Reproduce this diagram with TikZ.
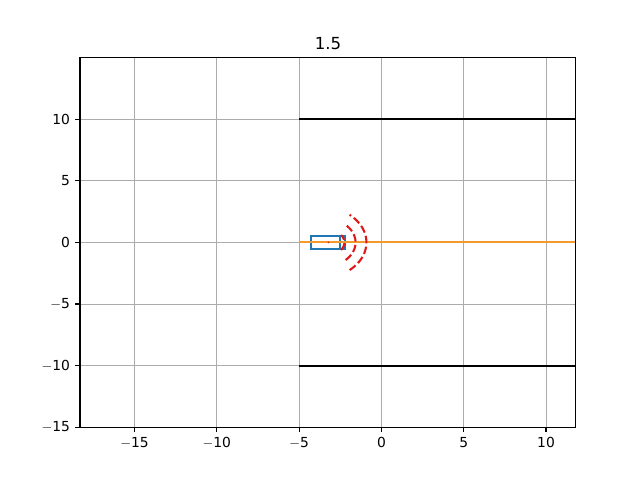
\documentclass[tikz,border=0pt]{standalone}
\usepackage{fontspec}
\setmainfont{DejaVu Sans}
\definecolor{cblue}{HTML}{1F77B4}
\definecolor{corange}{HTML}{F39A2A}
\definecolor{cred}{HTML}{E01818}
\definecolor{cgrid}{HTML}{ABABAB}
\tikzset{
  gridline/.style={draw=cgrid, line width=0.5pt},
  tickmark/.style={draw=black, line width=0.8pt},
  spine/.style={draw=black, line width=0.8pt},
  ticklabel/.style={font=\fontsize{10}{12}\selectfont, inner sep=0pt},
  road/.style={draw=black, line width=1.5pt},
  lane/.style={draw=corange, line width=1.5pt},
  car/.style={draw=cblue, line width=1.5pt},
  wave/.style={draw=cred, line width=1.5pt, dash pattern=on 5.5pt off 2.4pt},
}
\begin{document}
\begin{tikzpicture}[x=0.1646in,y=0.1232in]
\useasboundingbox[fill=white] (-23.17,-19.286) rectangle (15.71,19.675);
\def\xa{-18.31}
\def\xb{11.79}
\def\ya{-15}
\def\yb{14.98}
% grid
\foreach \x in {-15,-10,-5,0,5,10} \draw[gridline] (\x,\ya) -- (\x,\yb);
\foreach \y in {-10,-5,0,5,10} \draw[gridline] (\xa,\y) -- (\xb,\y);
% road edges
\coordinate (ul) at (-5,10); \coordinate (ur) at (\xb,10);
\coordinate (ll) at (-5,-10); \coordinate (lr) at (\xb,-10);
\draw[road] (ul) -- (ur);
\draw[road] (ll) -- (lr);
% car
\coordinate (c1) at (-4.25,-0.5); \coordinate (c2) at (-2.23,0.5);
\draw[car] (c1) rectangle (c2);
\coordinate (f1) at (-2.53,-0.5); \coordinate (f2) at (-2.53,0.5);
\draw[cblue, line width=1.2pt] (f1) -- (f2);
% lane
\coordinate (la) at (-5,0); \coordinate (lb) at (\xb,0);
\draw[lane] (la) -- (lb);
\fill[cred] (-3.22,0) circle (0.7pt);
% waves
\draw[wave] plot[domain=-49:49, samples=50] ({-3.88+2.97*cos(\x)},{2.97*sin(\x)});
\draw[wave] plot[domain=-46:46, samples=40] ({-3.55+1.98*cos(\x)},{1.98*sin(\x)});
\draw[wave] plot[domain=-37:37, samples=30] ({-3.25+1.0*cos(\x)},{1.0*sin(\x)});
% spines
\draw[spine] (\xa,\ya) rectangle (\xb,\yb);
% ticks and labels
\foreach \x/\l in {-15/$-$15,-10/$-$10,-5/$-$5,0/0,5/5,10/10} {
  \draw[tickmark] (\x,\ya) -- ++(0,-3.5pt);
  \node[ticklabel, anchor=north] at ([yshift=-7pt]\x,\ya) {\l};
}
\foreach \y/\l in {-15/$-$15,-10/$-$10,-5/$-$5,0/0,5/5,10/10} {
  \draw[tickmark] (\xa,\y) -- ++(-3.5pt,0);
  \node[ticklabel, anchor=east] at ([xshift=-7pt]\xa,\y) {\l};
}
\node[font=\fontsize{12}{14}\selectfont, anchor=base, inner sep=0pt] (title) at ([yshift=6pt]-3.245,\yb) {1.5};
\end{tikzpicture}
\end{document}
